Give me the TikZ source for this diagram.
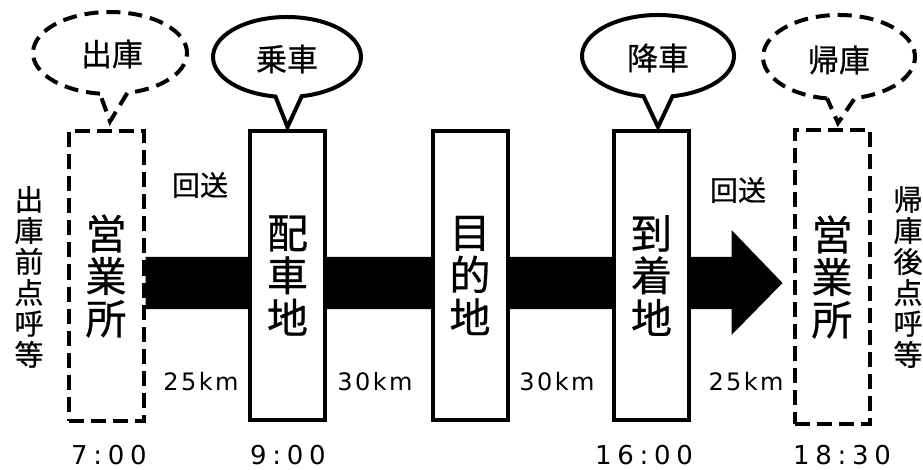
\documentclass[tikz,border=0pt]{standalone}
\usepackage{fontspec}
\setmainfont[FakeBold=0.6]{Noto Sans CJK JP}
\newfontfamily\kmfont[LetterSpace=10]{DejaVu Sans}
\newfontfamily\timefont[LetterSpace=22]{DejaVu Sans}
\usetikzlibrary{calc,backgrounds}
\begin{document}
\begin{tikzpicture}[x=1pt,y=-1pt,
  box/.style={draw, line width=4pt, fill=white, minimum width=75pt, minimum height=289pt,
    inner sep=0pt, font=\fontsize{41}{42.5}\selectfont, align=center},
  dbox/.style={box, dash pattern=on 15pt off 7pt},
  bubble/.style={draw, line width=4pt, fill=white},
  dbubble/.style={bubble, dash pattern=on 14pt off 8pt},
  btext/.style={font=\fontsize{31}{31}\selectfont, inner sep=0pt},
  side/.style={font=\fontsize{29}{31}\selectfont, align=center, inner sep=0pt},
  small/.style={font=\fontsize{28}{28}\selectfont, inner sep=0pt},
  km/.style={font=\fontsize{24}{24}\selectfont\kmfont, inner sep=0pt, anchor=base, text depth=0pt},
  tm/.style={font=\fontsize{26}{26}\selectfont\timefont, inner sep=0pt, anchor=base, text depth=0pt}]
\useasboundingbox (0,0) rectangle (923,470);

% boxes
\node[dbox] (b1) at (106,276) {営\\業\\所};
\node[box] (b2) at (287.5,275.5) {配\\車\\地};
\node[box] (b3) at (470,275.5) {目\\的\\地};
\node[box] (b4) at (651.5,275.5) {到\\着\\地};
\node[dbox, minimum height=294pt] (b5) at (832,277) {営\\業\\所};

% big arrow
\coordinate (aT) at ($(b5.west)+(-10,6)$);
\begin{scope}[on background layer]
\fill ($(b1.east)+(0,-19)$) -- ($(aT)+(-51,-26)$) -- ($(aT)+(-51,-53)$) -- (aT)
  -- ($(aT)+(-51,52)$) -- ($(aT)+(-51,26)$) -- ($(b1.east)+(0,33)$) -- cycle;
\end{scope}

% bubbles
\coordinate (c1) at (110,53);
\draw[dbubble] ($(c1)+(97.5:77 and 41)$) arc[start angle=97.5, end angle=437, x radius=77, y radius=41]
  -- ($(b1.north)+(4,-8)$) -- cycle;
\node[btext] (t1) at (112,54) {出庫};

\coordinate (c2) at (287,57);
\draw[bubble] ($(c2)+(99:74 and 40)$) arc[start angle=99, end angle=438.5, x radius=74, y radius=40]
  -- ($(b2.north)+(0,-2)$) -- cycle;
\node[btext] (t2) at (287,59) {乗車};

\coordinate (c3) at (658,56);
\draw[bubble] ($(c3)+(101:76 and 41)$) arc[start angle=101, end angle=439, x radius=76, y radius=41]
  -- ($(b4.north)+(6.5,-2)$) -- cycle;
\node[btext] (t3) at (658,58) {降車};

\coordinate (c4) at (839,57);
\draw[dbubble] ($(c4)+(99:76 and 42)$) arc[start angle=99, end angle=438, x radius=76, y radius=42]
  -- ($(b5.north)+(6,-5)$) -- cycle;
\node[btext] (t4) at (839,60) {帰庫};

% side texts
\node[side] (s1) at (29,277) {出\\庫\\前\\点\\呼\\等};
\node[side] (s2) at (908,277) {帰\\庫\\後\\点\\呼\\等};

% labels
\node[small] (k1) at (200,185) {回送};
\node[small] (k2) at (738,190) {回送};
\node[km] (d1) at (201,390) {25km};
\node[km] (d2) at (375,390) {30km};
\node[km] (d3) at (557,390) {30km};
\node[km] (d4) at (746,390) {25km};

\node[tm] (m1) at (109,464) {7:00};
\node[tm] (m2) at (288,464) {9:00};
\node[tm] (m3) at (644,464) {16:00};
\node[tm] (m4) at (842,464) {18:30};
\end{tikzpicture}
\end{document}
